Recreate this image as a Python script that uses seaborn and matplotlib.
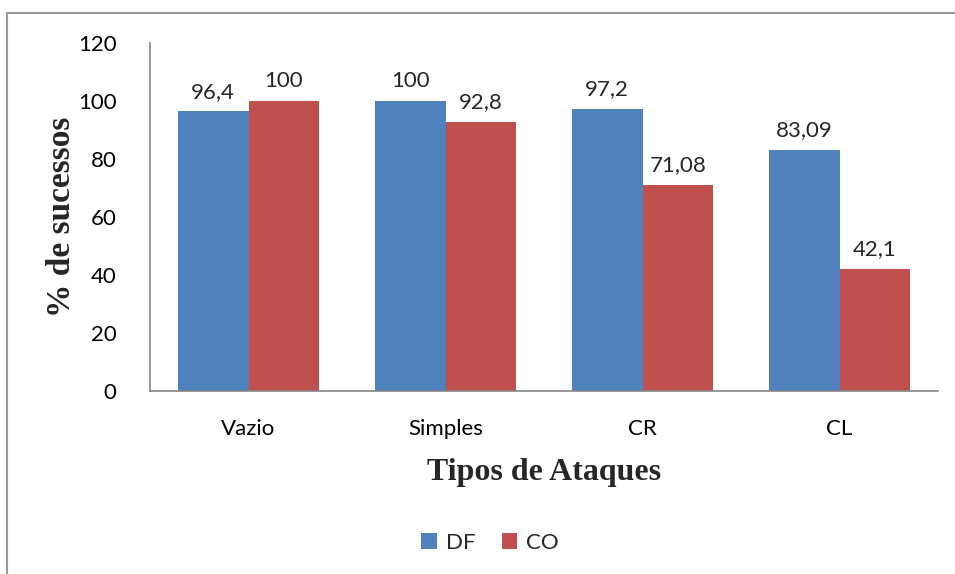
import seaborn as sns
import matplotlib.pyplot as plt
import pandas as pd
from matplotlib.lines import Line2D

categorias = ['Vazio', 'Simples', 'CR', 'CL']
df_vals = [96.4, 100, 97.2, 83.09]
co_vals = [100, 92.8, 71.08, 42.1]
rotulos_df = ['96,4', '100', '97,2', '83,09']
rotulos_co = ['100', '92,8', '71,08', '42,1']

dados = pd.DataFrame({
    'tipo': categorias * 2,
    'valor': df_vals + co_vals,
    'serie': ['DF'] * 4 + ['CO'] * 4,
})

sns.set_style("white")
plt.rcParams['font.family'] = ['Lato', 'DejaVu Sans']

fig = plt.figure(figsize=(9.55, 5.74), dpi=100)
ax = fig.add_axes([150 / 955, 1 - 391 / 574, 788 / 955, 348 / 574])

sns.barplot(data=dados, x='tipo', y='valor', hue='serie',
            palette=['#4F81BD', '#C0504D'], width=0.72, ax=ax,
            saturation=1, legend=True, linewidth=0)

for cont, labs in zip(ax.containers, [rotulos_df, rotulos_co]):
    ax.bar_label(cont, labels=labs, padding=7, fontsize=16)

ax.set_ylim(0, 120)
ax.set_yticks(range(0, 121, 20))
ax.tick_params(axis='both', length=0, labelsize=16, colors='black')
ax.tick_params(axis='y', pad=24)
ax.tick_params(axis='x', pad=20)
for s in ['top', 'right']:
    ax.spines[s].set_visible(False)
for s in ['left', 'bottom']:
    ax.spines[s].set_color('#868686')
    ax.spines[s].set_linewidth(1.2)

ax.set_xlabel('Tipos de Ataques', fontsize=23, fontweight='bold',
              family='Liberation Serif', labelpad=14)
ax.set_ylabel('% de sucessos', fontsize=24, fontweight='bold',
              family='Liberation Serif', labelpad=1)

ax.legend(loc='center', bbox_to_anchor=(490 / 955, 1 - 543 / 574),
          bbox_transform=fig.transFigure, ncol=2, frameon=False,
          fontsize=16, handlelength=0.7, handleheight=0.7,
          handletextpad=0.4, columnspacing=1.2)

# borda externa: só topo e esquerda aparecem (o resto está cortado)
x0, y0 = 7 / 955, 1 - 13 / 574
fig.add_artist(Line2D([x0, 1], [y0, y0], transform=fig.transFigure,
                      color='#999999', linewidth=1.5))
fig.add_artist(Line2D([x0, x0], [0, y0], transform=fig.transFigure,
                      color='#999999', linewidth=1.5))

fig.savefig('out.png', dpi=100)
